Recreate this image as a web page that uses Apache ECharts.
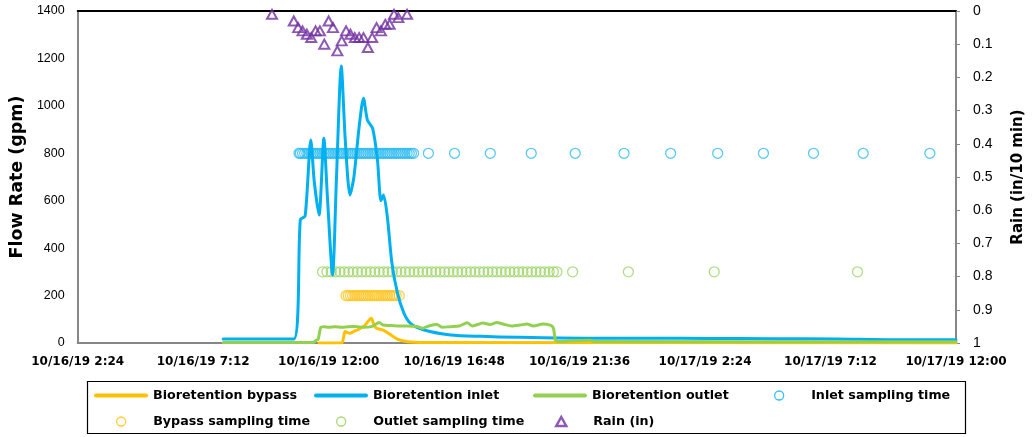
<!DOCTYPE html>
<html>
<head>
<meta charset="utf-8">
<script src="https://cdn.jsdelivr.net/npm/echarts@6/dist/echarts.min.js"></script>
<style>
  html, body { margin: 0; padding: 0; background: #fff; }
  #chart { width: 1034px; height: 437px; }
</style>
</head>
<body>
<div id="chart"></div>
<script>
// ---- Flow records (timestamp, gpm) ----
const inletTime = ['2019-10-16 07:58','2019-10-16 10:40','2019-10-16 10:55','2019-10-16 11:06','2019-10-16 11:19','2019-10-16 11:27','2019-10-16 11:38','2019-10-16 11:49','2019-10-16 11:57','2019-10-16 12:09','2019-10-16 12:18','2019-10-16 12:29','2019-10-16 12:38','2019-10-16 12:49','2019-10-16 12:58','2019-10-16 13:10','2019-10-16 13:20','2019-10-16 13:29','2019-10-16 13:41','2019-10-16 13:52','2019-10-16 14:00','2019-10-16 14:06','2019-10-16 14:15','2019-10-16 14:25','2019-10-16 14:38','2019-10-16 14:53','2019-10-16 15:08','2019-10-16 15:39','2019-10-16 16:40','2019-10-16 17:50','2019-10-16 19:12','2019-10-16 21:44','2019-10-17 00:30','2019-10-17 02:30','2019-10-17 05:00','2019-10-17 07:30','2019-10-17 09:30','2019-10-17 12:00'];
const inletFlow = [17,17,520,535,856,680,540,863,620,287,700,1168,860,624,700,912,1032,940,905,772,600,624,527,340,210,125,83,55,34,28,24,20,20,19,18,17,14,14];

const bypassTime = ['2019-10-16 11:38','2019-10-16 12:30','2019-10-16 12:34','2019-10-16 12:38','2019-10-16 12:49','2019-10-16 12:59','2019-10-16 13:06','2019-10-16 13:22','2019-10-16 13:33','2019-10-16 13:38','2019-10-16 13:44','2019-10-16 13:50','2019-10-16 14:04','2019-10-16 14:23','2019-10-16 14:38','2019-10-16 15:01','2019-10-16 15:40','2019-10-17 12:00'];
const bypassFlow = [0,0,20,48,41,50,55,72,97,104,76,62,55,34,16,5,2,0];

const outletTime = ['2019-10-16 07:58','2019-10-16 11:24','2019-10-16 11:32','2019-10-16 11:36','2019-10-16 11:42','2019-10-16 11:50','2019-10-16 12:00','2019-10-16 12:15','2019-10-16 12:30','2019-10-16 12:45','2019-10-16 13:00','2019-10-16 13:20','2019-10-16 13:40','2019-10-16 13:56','2019-10-16 14:05','2019-10-16 14:20','2019-10-16 14:40','2019-10-16 15:00','2019-10-16 15:24','2019-10-16 15:35','2019-10-16 15:50','2019-10-16 16:09','2019-10-16 16:20','2019-10-16 16:40','2019-10-16 17:00','2019-10-16 17:18','2019-10-16 17:30','2019-10-16 17:55','2019-10-16 18:10','2019-10-16 18:26','2019-10-16 18:40','2019-10-16 19:00','2019-10-16 19:20','2019-10-16 19:35','2019-10-16 19:50','2019-10-16 20:12','2019-10-16 20:30','2019-10-16 20:36','2019-10-16 20:41','2019-10-16 20:50','2019-10-16 22:00','2019-10-16 22:10','2019-10-17 12:00'];
const outletFlow = [2,2,12,16,66,69,66,68,66,69,70,66,70,86,76,74,72,72,69,62,72,78,66,69,72,85,72,84,78,86,80,72,76,80,72,80,74,62,10,6,12,6,5];

// ---- Sampling times (plotted at a fixed marker level) ----
const inletSampleTime = ['2019-10-16 10:52','2019-10-16 10:55','2019-10-16 11:00','2019-10-16 11:05','2019-10-16 11:10','2019-10-16 11:15','2019-10-16 11:20','2019-10-16 11:25','2019-10-16 11:30','2019-10-16 11:35','2019-10-16 11:40','2019-10-16 11:45','2019-10-16 11:50','2019-10-16 11:55','2019-10-16 12:00','2019-10-16 12:05','2019-10-16 12:10','2019-10-16 12:15','2019-10-16 12:20','2019-10-16 12:25','2019-10-16 12:30','2019-10-16 12:35','2019-10-16 12:40','2019-10-16 12:45','2019-10-16 12:50','2019-10-16 12:55','2019-10-16 13:00','2019-10-16 13:05','2019-10-16 13:10','2019-10-16 13:15','2019-10-16 13:20','2019-10-16 13:25','2019-10-16 13:30','2019-10-16 13:35','2019-10-16 13:40','2019-10-16 13:45','2019-10-16 13:50','2019-10-16 13:55','2019-10-16 14:00','2019-10-16 14:05','2019-10-16 14:10','2019-10-16 14:15','2019-10-16 14:20','2019-10-16 14:25','2019-10-16 14:30','2019-10-16 14:35','2019-10-16 14:40','2019-10-16 14:45','2019-10-16 14:50','2019-10-16 14:55','2019-10-16 15:00','2019-10-16 15:05','2019-10-16 15:10','2019-10-16 15:15','2019-10-16 15:49','2019-10-16 16:49','2019-10-16 18:11','2019-10-16 19:45','2019-10-16 21:26','2019-10-16 23:18','2019-10-17 01:05','2019-10-17 02:53','2019-10-17 04:38','2019-10-17 06:33','2019-10-17 08:27','2019-10-17 11:00'];
const inletSampleLevel = 800;

const bypassSampleTime = ['2019-10-16 12:40','2019-10-16 12:45','2019-10-16 12:50','2019-10-16 12:55','2019-10-16 13:00','2019-10-16 13:05','2019-10-16 13:10','2019-10-16 13:15','2019-10-16 13:20','2019-10-16 13:25','2019-10-16 13:30','2019-10-16 13:35','2019-10-16 13:40','2019-10-16 13:45','2019-10-16 13:50','2019-10-16 13:55','2019-10-16 14:00','2019-10-16 14:05','2019-10-16 14:10','2019-10-16 14:15','2019-10-16 14:20','2019-10-16 14:25','2019-10-16 14:30','2019-10-16 14:35','2019-10-16 14:42'];
const bypassSampleLevel = 200;

const outletSampleTime = ['2019-10-16 11:46','2019-10-16 11:56','2019-10-16 12:06','2019-10-16 12:16','2019-10-16 12:26','2019-10-16 12:36','2019-10-16 12:46','2019-10-16 12:56','2019-10-16 13:06','2019-10-16 13:16','2019-10-16 13:26','2019-10-16 13:36','2019-10-16 13:46','2019-10-16 13:56','2019-10-16 14:06','2019-10-16 14:16','2019-10-16 14:26','2019-10-16 14:36','2019-10-16 14:46','2019-10-16 14:56','2019-10-16 15:06','2019-10-16 15:16','2019-10-16 15:26','2019-10-16 15:36','2019-10-16 15:46','2019-10-16 15:56','2019-10-16 16:06','2019-10-16 16:16','2019-10-16 16:26','2019-10-16 16:36','2019-10-16 16:46','2019-10-16 16:56','2019-10-16 17:06','2019-10-16 17:16','2019-10-16 17:26','2019-10-16 17:36','2019-10-16 17:46','2019-10-16 17:56','2019-10-16 18:06','2019-10-16 18:16','2019-10-16 18:26','2019-10-16 18:36','2019-10-16 18:46','2019-10-16 18:56','2019-10-16 19:06','2019-10-16 19:16','2019-10-16 19:26','2019-10-16 19:36','2019-10-16 19:46','2019-10-16 19:56','2019-10-16 20:06','2019-10-16 20:16','2019-10-16 20:26','2019-10-16 20:36','2019-10-16 20:44','2019-10-16 21:20','2019-10-16 23:28','2019-10-17 02:45','2019-10-17 08:14'];
const outletSampleLevel = 300;

// ---- Rainfall per 10 min (in) ----
const rainTime = ['2019-10-16 09:50','2019-10-16 10:40','2019-10-16 10:50','2019-10-16 11:00','2019-10-16 11:10','2019-10-16 11:20','2019-10-16 11:30','2019-10-16 11:40','2019-10-16 11:50','2019-10-16 12:00','2019-10-16 12:10','2019-10-16 12:20','2019-10-16 12:30','2019-10-16 12:40','2019-10-16 12:50','2019-10-16 13:00','2019-10-16 13:10','2019-10-16 13:20','2019-10-16 13:30','2019-10-16 13:40','2019-10-16 13:50','2019-10-16 14:00','2019-10-16 14:10','2019-10-16 14:20','2019-10-16 14:30','2019-10-16 14:40','2019-10-16 15:00'];
const rainDepth = [0.01,0.03,0.05,0.06,0.07,0.08,0.06,0.06,0.10,0.03,0.05,0.12,0.09,0.06,0.07,0.08,0.08,0.08,0.11,0.08,0.05,0.06,0.04,0.04,0.01,0.02,0.01];

// ---- Axis labels ----
const xTickLabels = ['10/16/19 2:24','10/16/19 7:12','10/16/19 12:00','10/16/19 16:48','10/16/19 21:36','10/17/19 2:24','10/17/19 7:12','10/17/19 12:00'];

// Time axis is measured in minutes after the first tick (10/16/19 2:24)
const T0 = Date.UTC(2019, 9, 16, 2, 24);
const STEP = 288;            // 4.8 h between ticks
const SPAN = STEP * 7;       // 10/16 2:24 -> 10/17 12:00
function toMin(s) {
  const [d, t] = s.split(' ');
  const [Y, M, D] = d.split('-').map(Number);
  const [h, m] = t.split(':').map(Number);
  return (Date.UTC(Y, M - 1, D, h, m) - T0) / 60000;
}
const pairs = (times, vals) => times.map((t, i) => [toMin(t), vals[i]]);
const level = (times, v) => times.map(t => [toMin(t), v]);

const C_BYPASS = '#FFC000', C_INLET = '#00B0F0', C_OUTLET = '#92D050', C_RAIN = '#7030A0';
const SANS = '"Liberation Sans", Arial, sans-serif';
const WIDE = '"DejaVu Sans", Verdana, sans-serif';

const ICON_LINE = 'path://M2,0H52A2,2,0,0,1,52,4H2A2,2,0,0,1,2,0Z';
const ICON_CIRCLE = 'path://M5,0A5,5,0,1,1,5,10A5,5,0,1,1,5,0Z';
const ICON_TRI = 'path://M5,0L10,9L0,9Z';

function flowLine(name, times, vals, color) {
  return {
    name, type: 'line', xAxisIndex: 0, yAxisIndex: 0,
    data: pairs(times, vals),
    symbol: 'none', showSymbol: false, smooth: 0.25,
    lineStyle: { color, width: 3, cap: 'round', join: 'round' },
    itemStyle: { color }, silent: true
  };
}
function sampleMarks(name, times, v, color) {
  return {
    name, type: 'scatter', xAxisIndex: 0, yAxisIndex: 0,
    data: level(times, v),
    symbol: 'circle', symbolSize: 10,
    itemStyle: { color: 'transparent', borderColor: color, borderWidth: 1.3 },
    silent: true
  };
}

// Legend: a 4-column grid, one component per entry so every column lines up.
// Marker entries get a narrower icon box, so they are shifted to keep the text column.
const legendCols = [94, 314, 533, 752];
const legendRows = [389, 415];
const MARKER_SHIFT = 22;
const legendEntries = [
  { name: 'Bioretention bypass', icon: ICON_LINE, itemStyle: { color: C_BYPASS, borderWidth: 0 }, col: 0, row: 0, marker: false },
  { name: 'Bioretention inlet', icon: ICON_LINE, itemStyle: { color: C_INLET, borderWidth: 0 }, col: 1, row: 0, marker: false },
  { name: 'Bioretention outlet', icon: ICON_LINE, itemStyle: { color: C_OUTLET, borderWidth: 0 }, col: 2, row: 0, marker: false },
  { name: 'Inlet sampling time', icon: ICON_CIRCLE, itemStyle: { color: 'transparent', borderColor: C_INLET, borderWidth: 1.3 }, col: 3, row: 0, marker: true },
  { name: 'Bypass sampling time', icon: ICON_CIRCLE, itemStyle: { color: 'transparent', borderColor: C_BYPASS, borderWidth: 1.3 }, col: 0, row: 1, marker: true },
  { name: 'Outlet sampling time', icon: ICON_CIRCLE, itemStyle: { color: 'transparent', borderColor: C_OUTLET, borderWidth: 1.3 }, col: 1, row: 1, marker: true },
  { name: 'Rain (in)', icon: ICON_TRI, itemStyle: { color: 'transparent', borderColor: C_RAIN, borderWidth: 2.5 }, col: 2, row: 1, marker: true }
];
const legends = legendEntries.map(e => ({
  left: legendCols[e.col] + (e.marker ? MARKER_SHIFT : 0), top: legendRows[e.row], orient: 'horizontal',
  itemWidth: 54, itemHeight: 9, itemGap: 0, padding: 0, selectedMode: false,
  textStyle: { fontSize: 12.7, fontWeight: 'bold', fontFamily: WIDE, color: '#000' },
  data: [{ name: e.name, icon: e.icon, itemStyle: e.itemStyle }]
}));

const chart = echarts.init(document.getElementById('chart'), null, { renderer: 'canvas' });
chart.setOption({
  animation: false,
  backgroundColor: '#fff',
  grid: { left: 76, right: 77, top: 11, bottom: 94, containLabel: false },
  xAxis: [
    {
      type: 'value', min: 0, max: SPAN, interval: STEP, position: 'bottom',
      axisLine: { onZero: false, lineStyle: { color: '#868686', width: 2 } },
      axisTick: { show: false }, splitLine: { show: false },
      axisLabel: {
        formatter: v => xTickLabels[Math.round(v / STEP)],
        fontFamily: WIDE, fontWeight: 'bold', fontSize: 12, color: '#000', margin: 13,
        showMinLabel: true, showMaxLabel: true
      }
    },
    {
      type: 'value', min: 0, max: SPAN, position: 'top',
      axisLine: { onZero: false, lineStyle: { color: '#000', width: 2 } },
      axisTick: { show: false }, axisLabel: { show: false }, splitLine: { show: false }
    }
  ],
  yAxis: [
    {
      type: 'value', min: 0, max: 1400, interval: 200, position: 'left',
      name: 'Flow Rate (gpm)', nameLocation: 'middle', nameRotate: 90, nameGap: 46,
      nameTextStyle: { fontFamily: WIDE, fontWeight: 'bold', fontSize: 17.5, color: '#000' },
      axisLine: { show: true, onZero: false, lineStyle: { color: '#868686', width: 2 } },
      axisTick: { show: false }, splitLine: { show: false },
      axisLabel: { fontFamily: SANS, fontSize: 12.5, color: '#000', margin: 13, formatter: v => String(v) }
    },
    {
      type: 'value', min: 0, max: 1, interval: 0.1, inverse: true, position: 'right',
      name: 'Rain (in/10 min)', nameLocation: 'middle', nameRotate: 90, nameGap: 55,
      nameTextStyle: { fontFamily: WIDE, fontWeight: 'bold', fontSize: 15, color: '#000' },
      axisLine: { show: true, onZero: false, lineStyle: { color: '#868686', width: 2 } },
      axisTick: { show: true, inside: false, length: 4, lineStyle: { color: '#868686', width: 1 } },
      splitLine: { show: false },
      axisLabel: { fontFamily: SANS, fontSize: 14, color: '#000', margin: 17, formatter: v => String(Number(v.toFixed(1))) }
    }
  ],
  legend: legends,
  graphic: [
    { type: 'rect', left: 85, top: 379, shape: { width: 878, height: 52 }, style: { fill: 'none', stroke: '#000', lineWidth: 1.2 }, silent: true, z: -1 }
  ],
  series: [
    flowLine('Bioretention bypass', bypassTime, bypassFlow, C_BYPASS),
    flowLine('Bioretention inlet', inletTime, inletFlow, C_INLET),
    flowLine('Bioretention outlet', outletTime, outletFlow, C_OUTLET),
    sampleMarks('Inlet sampling time', inletSampleTime, inletSampleLevel, '#2EBBF1'),
    sampleMarks('Bypass sampling time', bypassSampleTime, bypassSampleLevel, '#FFC420'),
    sampleMarks('Outlet sampling time', outletSampleTime, outletSampleLevel, '#9CD466'),
    {
      name: 'Rain (in)', type: 'scatter', xAxisIndex: 0, yAxisIndex: 1,
      data: pairs(rainTime, rainDepth),
      symbol: 'triangle', symbolSize: [10, 9],
      itemStyle: { color: 'transparent', borderColor: C_RAIN, borderWidth: 2 },
      silent: true, z: 5
    }
  ]
});
</script>
</body>
</html>
